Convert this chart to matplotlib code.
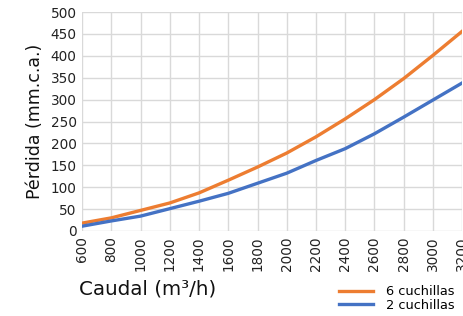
import matplotlib.pyplot as plt

caudal = [600, 800, 1000, 1200, 1400, 1600, 1800, 2000, 2200, 2400, 2600, 2800, 3000, 3200]
seis = [18, 30, 47, 64, 87, 116, 146, 178, 215, 256, 300, 348, 401, 456]
dos = [11, 23, 34, 51, 68, 86, 109, 132, 161, 188, 222, 260, 299, 338]
etiquetas = [str(c) for c in caudal]

plt.rcParams['font.family'] = ['DejaVu Sans']

fig = plt.figure(figsize=(4.64, 3.16), dpi=100)
ax = fig.add_axes([0.177, 0.269, 0.819, 0.693])

ax.plot(caudal, seis, color='#ED7D31', lw=2.4, label='6 cuchillas')
ax.plot(caudal, dos, color='#4472C4', lw=2.4, label='2 cuchillas')

ax.set_xlim(600, 3200)
ax.set_ylim(0, 500)
ax.set_xticks(caudal, etiquetas, rotation=90, ha='center', va='top')
ax.set_yticks(range(0, 501, 50))
ax.tick_params(length=0, labelsize=9.8, colors='#222222', pad=4)
ax.grid(True, color='#d9d9d9', lw=1)
for s in ax.spines.values():
    s.set_visible(False)
ax.set_axisbelow(True)

ax.set_ylabel('Pérdida (mm.c.a.)', fontsize=12.5, color='#111111', labelpad=5)
fig.text(0.318, 0.085, 'Caudal (m³/h)', fontsize=14.3, color='#111111', ha='center', va='center')

ax.legend(loc='upper right', bbox_to_anchor=(1.0, -0.212), frameon=False, fontsize=9.3,
          handlelength=2.6, labelspacing=0.05, borderpad=0.1, handletextpad=1.0)

fig.savefig('out.png', dpi=100)
